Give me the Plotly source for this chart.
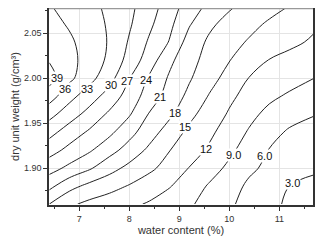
import plotly.graph_objects as go

# water content (%) grid
water = [6.4, 6.8, 7.2, 7.6, 8.0, 8.4, 8.8, 9.2, 9.6, 10.0, 10.4, 10.8, 11.2, 11.7]
# dry unit weight (g/cm3) grid
density = [1.86, 1.88, 1.90, 1.92, 1.94, 1.96, 1.98, 2.00, 2.02, 2.04, 2.06, 2.08]

# estimated values (rows follow density)
z_186 = [18.0, 15.5, 14.3, 13.5, 12.6, 11.7, 10.5, 9.4, 7.9, 6.4, 5.1, 3.8, 2.5, 1.8]
z_188 = [21.8, 19.0, 17.2, 16.0, 14.8, 13.5, 12.2, 10.5, 8.7, 7.1, 5.5, 4.3, 3.0, 2.4]
z_190 = [25.2, 23.3, 21.4, 19.1, 17.2, 15.6, 13.9, 11.9, 10.2, 8.4, 6.5, 5.4, 4.5, 3.35]
z_192 = [28.2, 26.2, 24.4, 22.1, 19.8, 17.4, 15.1, 13.35, 11.6, 9.6, 7.7, 5.9, 5.2, 4.25]
z_194 = [31.0, 28.6, 26.6, 24.7, 22.0, 19.3, 16.7, 14.3, 12.6, 10.65, 8.7, 6.8, 5.7, 5.15]
z_196 = [34.0, 31.4, 29.0, 26.5, 24.3, 20.8, 18.6, 15.8, 13.6, 11.7, 9.8, 8.2, 6.9, 6.1]
z_198 = [37.4, 34.0, 31.4, 28.8, 25.7, 22.65, 19.75, 17.3, 14.8, 12.6, 11.0, 9.6, 8.6, 7.5]
z_200 = [40.2, 36.7, 34.0, 31.1, 27.1, 23.6, 20.65, 18.3, 16.1, 13.9, 11.9, 11.0, 10.1, 9.0]
z_202 = [38.8, 36.9, 34.8, 32.4, 28.9, 25.5, 21.7, 19.0, 16.9, 15.1, 13.45, 11.9, 11.2, 10.3]
z_204 = [38.0, 36.5, 34.7, 32.75, 29.7, 26.6, 23.85, 19.7, 17.5, 16.0, 14.7, 13.65, 12.6, 11.6]
z_206 = [37.0, 35.7, 34.25, 32.66, 30.36, 27.6, 24.76, 21.26, 18.55, 17.0, 15.8, 14.6, 13.6, 12.4]
z_208 = [36.2, 34.9, 33.8, 32.4, 30.7, 28.4, 25.5, 22.6, 20.3, 18.4, 17.1, 16.0, 14.95, 13.6]

z = [z_186, z_188, z_190, z_192, z_194, z_196, z_198, z_200, z_202, z_204, z_206, z_208]

# contour levels and their label texts
levels = [3, 6, 9, 12, 15, 18, 21, 24, 27, 30, 33, 36, 39]
level_text = ["3.0", "6.0", "9.0", "12", "15", "18", "21", "24", "27", "30", "33", "36", "39"]
# where each label sits (water content, dry unit weight)
label_x = [11.254, 10.694, 10.074, 9.534, 9.114, 8.914, 8.614, 8.334, 7.954, 7.634, 7.154, 6.714, 6.554]
label_y = [1.8833, 1.9133, 1.9144, 1.9211, 1.9456, 1.9611, 1.9789, 1.9978, 1.9967, 1.9922, 1.9878, 1.9878, 2.0000]

x_ticks = [7, 8, 9, 10, 11]
y_ticks = [1.90, 1.95, 2.00, 2.05]

fig = go.Figure()

fig.add_trace(go.Contour(
    x=water, y=density, z=z, showscale=False, hoverinfo="skip",
    colorscale=[[0, "#222"], [1, "#222"]],
    line=dict(color="#222", width=1, smoothing=1.0),
    contours=dict(start=levels[0], end=levels[-1], size=3, coloring="lines", showlabels=False),
))

for t, lx, ly in zip(level_text, label_x, label_y):
    fig.add_annotation(x=lx, y=ly, text=t, showarrow=False, xref="x", yref="y",
                       bgcolor="white", borderpad=0,
                       font=dict(size=11, color="#111", family="Liberation Sans"))

# the page body adds an 8px offset, so the figure is sized to fill the rest of the window
fig.update_layout(
    width=316, height=234,
    margin=dict(l=41, r=11, t=0, b=37),
    paper_bgcolor="white", plot_bgcolor="white",
    showlegend=False,
    font=dict(family="Liberation Sans", size=9, color="#333"),
)
fig.update_xaxes(
    range=[6.394, 11.674], tickvals=x_ticks, ticktext=[str(v) for v in x_ticks],
    showline=True, linecolor="#333", linewidth=1.5, mirror=True,
    ticks="outside", ticklen=4, tickcolor="#333",
    minor=dict(dtick=0.5, tick0=6.5, ticks="outside", ticklen=2, tickcolor="#333", showgrid=False),
    showgrid=True, gridcolor="#e4e4e4", gridwidth=1, zeroline=False,
    automargin=False,
    title=dict(text="water content (%)", font=dict(size=11, color="#333"), standoff=4),
    tickfont=dict(size=9),
)
fig.update_yaxes(
    range=[1.859, 2.078], tickvals=y_ticks, ticktext=["%.2f" % v for v in y_ticks],
    showline=True, linecolor="#333", linewidth=1.5, mirror=True,
    ticks="outside", ticklen=4, tickcolor="#333",
    minor=dict(dtick=0.025, tick0=1.875, ticks="outside", ticklen=2, tickcolor="#333", showgrid=False),
    showgrid=True, gridcolor="#e4e4e4", gridwidth=1, zeroline=False,
    automargin=False,
    title=dict(text="dry unit weight (g/cm³)", font=dict(size=11, color="#333"), standoff=2),
    tickfont=dict(size=9),
)
# grey top frame line as in the reference
fig.add_shape(type="line", xref="paper", yref="paper", x0=0, x1=1, y0=1, y1=1,
              line=dict(color="#999", width=2.5))

fig.write_html("out.html")
